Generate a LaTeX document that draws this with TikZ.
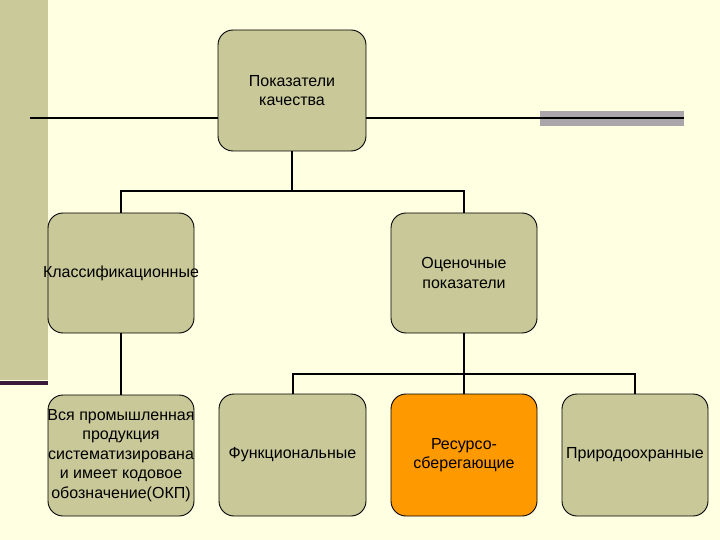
\documentclass[tikz,border=0pt]{standalone}
\usepackage{fontspec}
\setmainfont{Liberation Sans}
\definecolor{bg}{HTML}{FFFFE1}
\definecolor{band}{HTML}{C9C99A}
\definecolor{boxfill}{HTML}{C8C898}
\definecolor{orangefill}{HTML}{FF9900}
\definecolor{barcol}{HTML}{AAA6AB}
\definecolor{purpleline}{HTML}{3A1A3A}
\tikzset{
  box/.style={draw=black, line width=0.9pt, rounded corners=15pt, fill=boxfill,
    minimum width=146pt, minimum height=120pt, align=center, inner sep=0pt,
    font=\fontsize{16}{19.5}\selectfont},
  conn/.style={line width=2pt, black},
}
\begin{document}
\begin{tikzpicture}[x=1pt,y=-1pt]
\fill[bg] (0,0) rectangle (720,540);
\useasboundingbox (0,0) rectangle (720,540);
\fill[band] (0,0) rectangle (48,380);
\fill[purpleline] (0,381) rectangle (48,385);
\fill[barcol] (540,111) rectangle (684,126);
\coordinate (lstart) at (30,118);
\coordinate (rend) at (684,118);
\coordinate (bus1) at (0,191);
\coordinate (bus2) at (0,374);
\node[box, minimum width=148pt, minimum height=121pt] (top) at (292,90.5) {Показатели\\качества};
\node[box] (klass) at (121,273) {\makebox[0pt]{Классификационные}};
\node[box] (otsen) at (464,273) {Оценочные\\показатели};
\node[box, minimum height=121pt] (vsya) at (121,455.5) {\makebox[0pt]{Вся промышленная}\\продукция\\\makebox[0pt]{систематизирована}\\и имеет кодовое\\\makebox[0pt]{обозначение(ОКП)}};
\node[box, minimum width=147pt, minimum height=122pt] (funk) at (292.5,455) {Функциональные};
\node[box, fill=orangefill, minimum height=122pt] (res) at (464,455) {Ресурсо-\\сберегающие};
\node[box, minimum height=122pt] (prir) at (635,455) {Природоохранные};
\draw[conn] (lstart) -- (lstart -| top.west);
\draw[conn] (rend -| top.east) -- (rend);
\draw[conn] (top.south) -- (top.south |- bus1);
\draw[conn] (klass.north) -- (klass.north |- bus1) -- (otsen.north |- bus1) -- (otsen.north);
\draw[conn] (klass.south) -- (vsya.north);
\draw[conn] (otsen.south) -- (otsen.south |- bus2);
\draw[conn] (funk.north) -- (funk.north |- bus2) -- (prir.north |- bus2) -- (prir.north);
\draw[conn] (res.north) -- (res.north |- bus2);
\end{tikzpicture}
\end{document}
